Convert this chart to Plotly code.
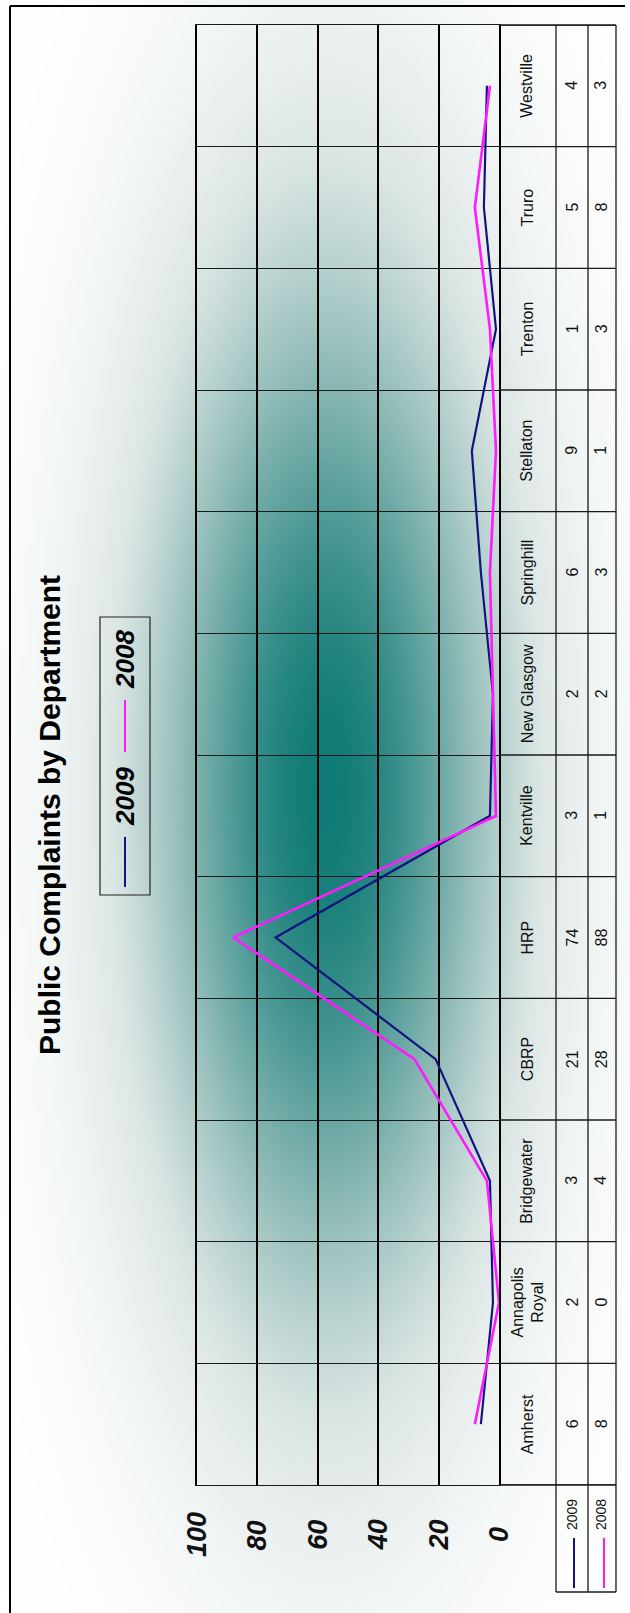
import numpy as np
import plotly.graph_objects as go

# ---- data -------------------------------------------------------------
departments = ["Amherst", "Annapolis<br>Royal", "Bridgewater", "CBRP", "HRP",
               "Kentville", "New Glasgow", "Springhill", "Stellaton",
               "Trenton", "Truro", "Westville"]
complaints_2009 = [6, 2, 3, 21, 74, 3, 2, 6, 9, 1, 5, 4]
complaints_2008 = [8, 0, 4, 28, 88, 1, 2, 3, 1, 3, 8, 3]
series_names = ["2009", "2008"]
value_ticks = [0, 20, 40, 60, 80, 100]
title_text = "Public Complaints by Department"

# ---- page geometry (pixels) --------------------------------------------
W, H = 630, 1613
FONT = "Liberation Sans, Arial, sans-serif"
C09, C08 = "#14147e", "#ff1aff"
LINE = "#1a1a1a"


def px(x):
    return x / W


def py(y):
    return 1 - y / H


PL, PR, PT, PB = 197, 499, 25, 1485          # plot area
COL_CAT, COL_A, COL_B, COL_END = 499, 556, 588, 616   # data table columns
KEY_BOTTOM = 1592

cat_idx = list(range(len(departments)))

fig = go.Figure()

# ---- soft teal glow behind the chart -----------------------------------
gx = np.arange(0, W + 10, 10)
gy = np.arange(0, H + 10, 10)
XX, YY = np.meshgrid(gx, gy)
glow = np.exp(-0.5 * (((XX - 325) / 128.0) ** 2 + ((YY - 790) / 380.0) ** 2))
fig.add_trace(go.Heatmap(
    x=gx, y=gy, z=glow, zmin=0, zmax=1, zsmooth="best", showscale=False,
    hoverinfo="skip", xaxis="x", yaxis="y",
    colorscale=[[0.0, "rgb(255,255,255)"], [0.25, "rgb(218,229,227)"],
                [0.55, "rgb(140,185,181)"], [1.0, "rgb(15,122,117)"]],
))

# ---- series lines ------------------------------------------------------
fig.add_trace(go.Scatter(x=complaints_2009, y=cat_idx, mode="lines",
                         name=series_names[0], line=dict(color=C09, width=2.2),
                         xaxis="x2", yaxis="y2"))
fig.add_trace(go.Scatter(x=complaints_2008, y=cat_idx, mode="lines",
                         name=series_names[1], line=dict(color=C08, width=2.6),
                         xaxis="x2", yaxis="y2"))

shapes = []
annotations = []


def hline(y0, x0, x1, yref="paper", w=1.3, color=LINE):
    shapes.append(dict(type="line", xref="paper", yref=yref, x0=px(x0), x1=px(x1),
                       y0=y0, y1=y0, line=dict(color=color, width=w)))


def vline(x0, y0, y1, w=1.3, color=LINE):
    shapes.append(dict(type="line", xref="paper", yref="paper", x0=px(x0), x1=px(x0),
                       y0=py(y0), y1=py(y1), line=dict(color=color, width=w)))


# outer frame
hline(py(6), 10, 625, w=2, color="#000")
vline(10, 6, H, w=2, color="#000")

# data table grid
hline(py(PT), COL_CAT, COL_END)
hline(py(PB), COL_CAT, COL_END)
for i in range(len(departments) + 1):
    hline(i - 0.5, COL_CAT, COL_END, yref="y2")
for xc in (COL_A, COL_B, COL_END):
    vline(xc, PT, KEY_BOTTOM)
hline(py(KEY_BOTTOM), COL_A, COL_END)


def rot_text(x, y, text, size, xref="paper", yref="paper", color="#111"):
    annotations.append(dict(x=x, y=y, xref=xref, yref=yref, text=text,
                            textangle=-90, showarrow=False, xanchor="center",
                            yanchor="middle", align="center",
                            font=dict(family=FONT, size=size, color=color)))


# category labels and values
for i, name in enumerate(departments):
    rot_text(px(527), i, name, 16, yref="y2")
    rot_text(px(572), i, str(complaints_2009[i]), 16, yref="y2")
    rot_text(px(601), i, str(complaints_2008[i]), 16, yref="y2")

# legend keys inside the table
rot_text(px(572), py(1515), series_names[0], 14)
rot_text(px(601), py(1515), series_names[1], 14)
vline(574, 1538, 1588, w=2, color=C09)
vline(604, 1538, 1588, w=2, color=C08)

# value axis labels
for v in value_ticks:
    rot_text(v, py(1535), "<b><i>%d</i></b>" % v, 27, xref="x2")

# title
rot_text(px(49), py(815), "<b>%s</b>" % title_text, 30, color="#000")

# legend box
shapes.append(dict(type="rect", xref="paper", yref="paper", x0=px(100), x1=px(150),
                   y0=py(617), y1=py(895), line=dict(color="#222", width=1.2)))
vline(125, 837, 887, w=2, color=C09)
vline(125, 700, 752, w=2, color=C08)
rot_text(px(125), py(797), "<b><i>%s</i></b>" % series_names[0], 26, color="#000")
rot_text(px(125), py(660), "<b><i>%s</i></b>" % series_names[1], 26, color="#000")

fig.update_layout(
    width=W, height=H, margin=dict(l=0, r=0, t=0, b=0),
    paper_bgcolor="white", plot_bgcolor="rgba(0,0,0,0)",
    showlegend=False,
    xaxis=dict(domain=[0, 1], range=[0, W], visible=False, fixedrange=True),
    yaxis=dict(domain=[0, 1], range=[H, 0], visible=False, fixedrange=True),
    xaxis2=dict(domain=[px(PL), px(PR)], range=[100, 0], anchor="y2",
                tickvals=value_ticks, showticklabels=False, ticks="",
                showgrid=True, gridcolor="#000", gridwidth=2, zeroline=False,
                showline=True, mirror=True, linecolor=LINE, linewidth=1.3),
    yaxis2=dict(domain=[py(PB), py(PT)], range=[-0.5, len(departments) - 0.5],
                anchor="x2", tickvals=[i - 0.5 for i in range(len(departments) + 1)],
                showticklabels=False, ticks="", showgrid=True, gridcolor=LINE,
                gridwidth=1.3, zeroline=False, showline=True, mirror=True,
                linecolor="#000", linewidth=2),
    shapes=shapes, annotations=annotations,
)

fig.write_html("out.html")
